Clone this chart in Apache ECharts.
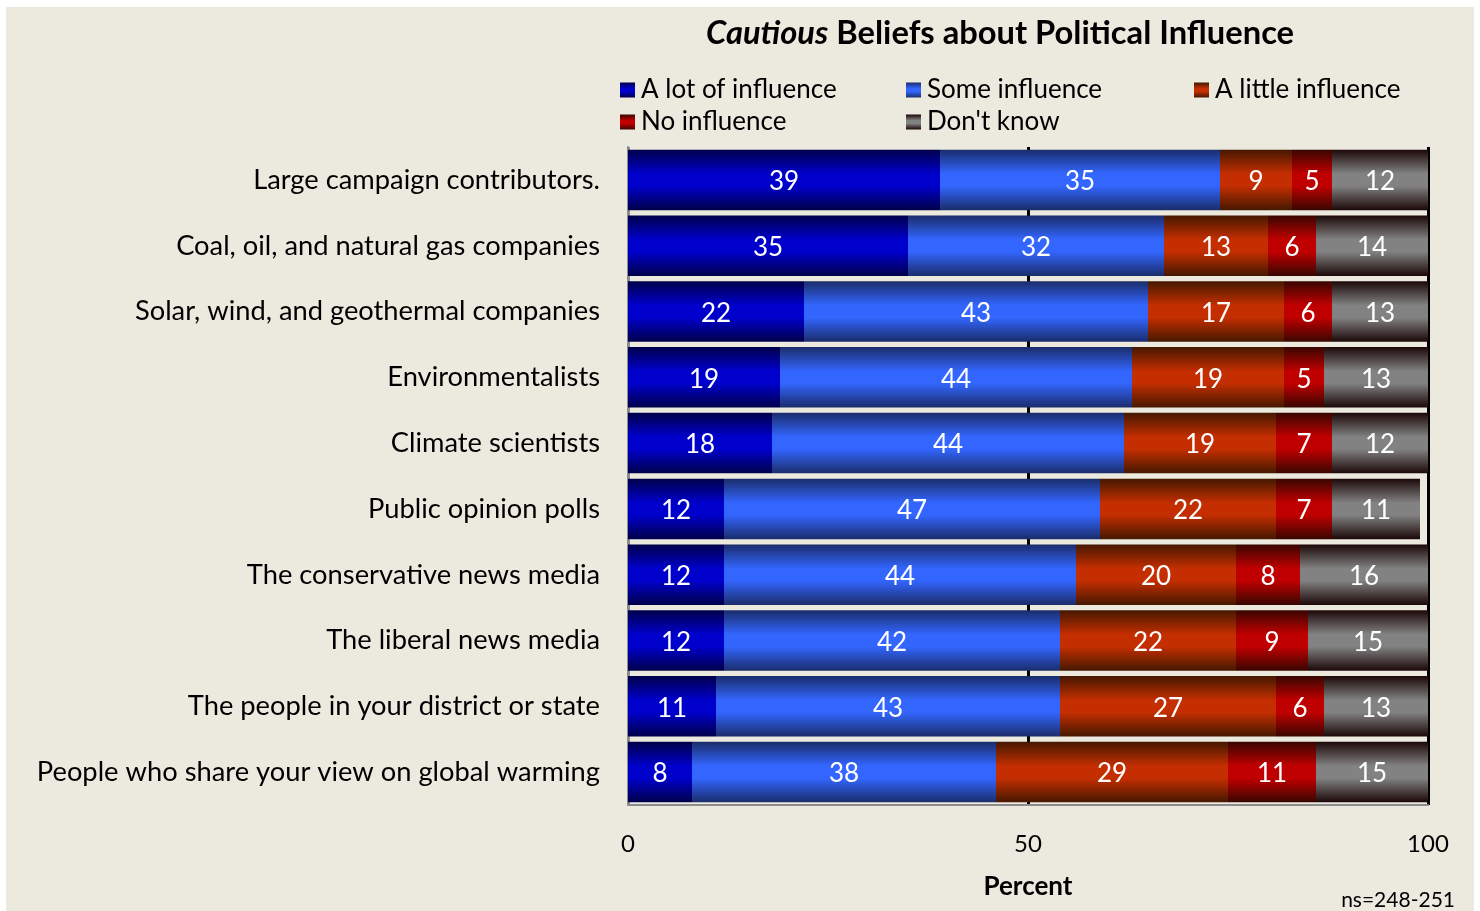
<!DOCTYPE html>
<html>
<head>
<meta charset="utf-8">
<title>Cautious Beliefs about Political Influence</title>
<script src="https://cdn.jsdelivr.net/npm/echarts@6/dist/echarts.min.js"></script>
<style>
  html, body { margin: 0; padding: 0; background: #ffffff; }
  #chart { width: 1480px; height: 911px; }
</style>
</head>
<body>
<div id="chart"></div>
<script>
// Groups asked about, top to bottom
const categories = [
  'Large campaign contributors.',
  'Coal, oil, and natural gas companies',
  'Solar, wind, and geothermal companies',
  'Environmentalists',
  'Climate scientists',
  'Public opinion polls',
  'The conservative news media',
  'The liberal news media',
  'The people in your district or state',
  'People who share your view on global warming'
];

// Percent of respondents per answer
const aLotOfInfluence  = [39, 35, 22, 19, 18, 12, 12, 12, 11, 8];
const someInfluence    = [35, 32, 43, 44, 44, 47, 44, 42, 43, 38];
const aLittleInfluence = [9, 13, 17, 19, 19, 22, 20, 22, 27, 29];
const noInfluence      = [5, 6, 6, 5, 7, 7, 8, 9, 6, 11];
const dontKnow         = [12, 14, 13, 13, 12, 11, 16, 15, 13, 15];

const xTicks = [0, 50, 100];

const FONT = 'Lato, "Open Sans", sans-serif';

// Vertical shaded fill: dark at the edges, bright through the middle
function shade(edge, mid) {
  return new echarts.graphic.LinearGradient(0, 0, 0, 1, [
    { offset: 0, color: edge },
    { offset: 0.4, color: mid },
    { offset: 0.6, color: mid },
    { offset: 1, color: edge }
  ]);
}

const seriesDefs = [
  { name: 'A lot of influence', data: aLotOfInfluence, fill: shade('#00004a', '#0000cc') },
  { name: 'Some influence', data: someInfluence, fill: shade('#1a2c6a', '#3366ff') },
  { name: 'A little influence', data: aLittleInfluence, fill: shade('#451800', '#c42e00') },
  { name: 'No influence', data: noInfluence, fill: shade('#380600', '#c00000') },
  { name: "Don't know", data: dontKnow, fill: shade('#1c0808', '#828282') }
];

// Legend laid out in three columns, filled row by row
const legendColumns = [
  { left: 620, names: ['A lot of influence', 'No influence'] },
  { left: 906, names: ['Some influence', "Don't know"] },
  { left: 1194, names: ['A little influence'] }
];

const legends = legendColumns.map(col => ({
  orient: 'vertical',
  left: col.left,
  top: 77,
  padding: 0,
  itemWidth: 15,
  itemHeight: 15,
  itemGap: 6,
  icon: 'rect',
  selectedMode: false,
  textStyle: {
    fontFamily: FONT,
    fontSize: 26,
    color: '#000',
    padding: [0, 0, 0, 1]
  },
  data: col.names
}));

const chart = echarts.init(document.getElementById('chart'), null, { renderer: 'canvas' });

chart.setOption({
  backgroundColor: '#ffffff',
  animation: false,
  graphic: [
    {
      type: 'rect', z: -10, silent: true,
      shape: { x: 6, y: 7, width: 1468, height: 904 },
      style: { fill: '#ece9df' }
    },
    {
      type: 'text', x: 1000, y: 33, z: 10,
      style: {
        text: '{i|Cautious}{b| Beliefs about Political Influence}',
        align: 'center',
        verticalAlign: 'middle',
        rich: {
          i: { fontFamily: FONT, fontSize: 32.7, fontWeight: 'bold', fontStyle: 'italic', fill: '#000' },
          b: { fontFamily: FONT, fontSize: 32.7, fontWeight: 'bold', fill: '#000' }
        }
      }
    },
    {
      type: 'text', x: 1455, y: 900, z: 10,
      style: {
        text: 'ns=248-251', font: '21px ' + FONT, fill: '#000',
        align: 'right', verticalAlign: 'middle'
      }
    }
  ],
  legend: legends,
  grid: {
    left: 628,
    right: 52,
    top: 147,
    bottom: 106,
    containLabel: false
  },
  xAxis: {
    type: 'value',
    min: 0,
    max: 100,
    interval: 50,
    name: 'Percent',
    nameLocation: 'middle',
    nameGap: 69,
    nameTextStyle: { fontFamily: FONT, fontSize: 26, fontWeight: 'bold', color: '#000' },
    axisLine: { show: true, lineStyle: { color: '#8c8c8c', width: 2 } },
    axisTick: { show: false },
    axisLabel: {
      fontFamily: FONT, fontSize: 24, color: '#000', margin: 27,
      formatter: v => (xTicks.includes(v) ? String(v) : '')
    },
    splitLine: { show: true, lineStyle: { color: ['#8c8c8c', '#000000', '#000000'], width: 3 } }
  },
  yAxis: {
    type: 'category',
    data: categories,
    inverse: true,
    axisLine: { show: true, lineStyle: { color: '#8c8c8c', width: 2 } },
    axisTick: { show: false },
    axisLabel: { fontFamily: FONT, fontSize: 27.3, color: '#000', margin: 28, padding: [2, 0, 0, 0] },
    splitLine: { show: false }
  },
  series: seriesDefs.map(s => ({
    name: s.name,
    type: 'bar',
    stack: 'total',
    barCategoryGap: '8%',
    data: s.data,
    itemStyle: { color: s.fill },
    label: {
      show: true,
      position: 'inside',
      offset: [0, 2],
      fontFamily: FONT,
      fontSize: 26,
      color: '#ffffff'
    },
    emphasis: { disabled: true }
  }))
});
</script>
</body>
</html>
